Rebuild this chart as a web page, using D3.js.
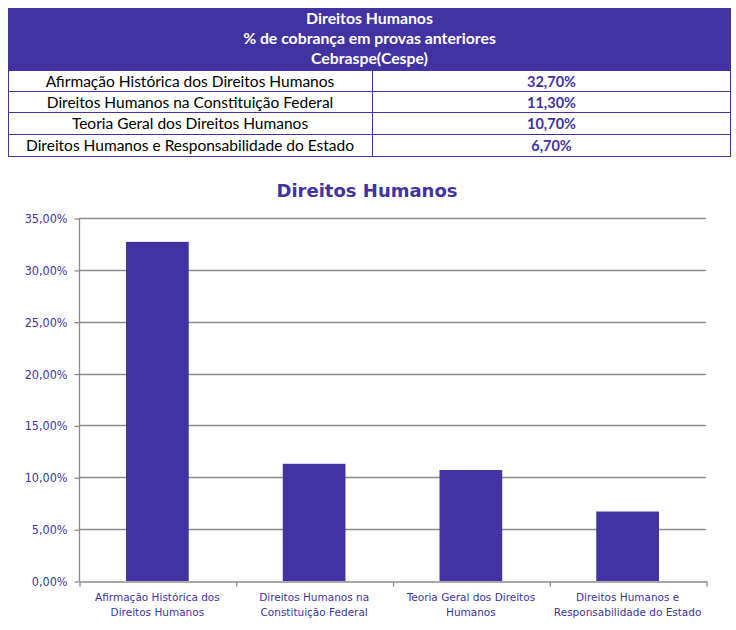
<!DOCTYPE html>
<html>
<head>
<meta charset="utf-8">
<script src="https://cdn.jsdelivr.net/npm/d3@7"></script>
<style>
  body { margin: 0; background: #fff; }
</style>
</head>
<body>
<div id="canvas"></div>
<script>
// chart values
var categories = [
  "Afirmação Histórica dos Direitos Humanos",
  "Direitos Humanos na Constituição Federal",
  "Teoria Geral dos Direitos Humanos",
  "Direitos Humanos e Responsabilidade do Estado"
];
// axis labels are wrapped on two lines like the original
var axisLabels = [
  ["Afirmação Histórica dos", "Direitos Humanos"],
  ["Direitos Humanos na", "Constituição Federal"],
  ["Teoria Geral dos Direitos", "Humanos"],
  ["Direitos Humanos e", "Responsabilidade do Estado"]
];
var values = [32.7, 11.3, 10.7, 6.7];
var headerLines = ["Direitos Humanos", "% de cobrança em provas anteriores", "Cebraspe(Cespe)"];
var chartTitle = "Direitos Humanos";
var yTicks = [0, 5, 10, 15, 20, 25, 30, 35];

var purple = "#4232a2";
var fmt = function(v){ return v.toFixed(2).replace(".", ",") + "%"; };

var svg = d3.select("#canvas").append("svg")
  .attr("width", 736).attr("height", 630);

// ---- table on top
var tbl = {left: 8, right: 731, split: 372, top: 8, headBottom: 70, rows: [70, 91, 112, 134, 156]};

svg.append("rect")
  .attr("x", tbl.left).attr("y", tbl.top)
  .attr("width", tbl.right - tbl.left).attr("height", tbl.headBottom - tbl.top)
  .attr("fill", purple);

svg.selectAll(".head").data(headerLines).enter().append("text")
  .attr("x", (tbl.left + tbl.right) / 2)
  .attr("y", function(d, i){ return 24 + i * 20; })
  .attr("text-anchor", "middle")
  .attr("fill", "#fff")
  .attr("font-family", "Lato, sans-serif")
  .attr("font-weight", "bold")
  .attr("font-size", 15.8)
  .text(function(d){ return d; });

var rowData = categories.map(function(c, i){ return {name: c, value: values[i]}; });

// row borders
svg.append("path")
  .attr("fill", "none").attr("stroke", purple).attr("stroke-width", 1)
  .attr("d", function(){
    var p = "";
    tbl.rows.forEach(function(y){ p += "M" + tbl.left + "," + (y + 0.5) + "H" + tbl.right; });
    p += "M" + (tbl.left + 0.5) + "," + tbl.rows[0] + "V" + tbl.rows[tbl.rows.length - 1];
    p += "M" + (tbl.right - 0.5) + "," + tbl.rows[0] + "V" + tbl.rows[tbl.rows.length - 1];
    p += "M" + (tbl.split + 0.5) + "," + tbl.rows[0] + "V" + tbl.rows[tbl.rows.length - 1];
    return p;
  });

var rows = svg.selectAll(".row").data(rowData).enter().append("g");
rows.append("text")
  .attr("x", (tbl.left + tbl.split) / 2)
  .attr("y", function(d, i){ return (tbl.rows[i] + tbl.rows[i + 1]) / 2 + 6; })
  .attr("text-anchor", "middle")
  .attr("fill", "#000")
  .attr("font-family", "Lato, sans-serif")
  .attr("font-size", 15.5)
  .text(function(d){ return d.name; });
rows.append("text")
  .attr("x", (tbl.split + tbl.right) / 2)
  .attr("y", function(d, i){ return (tbl.rows[i] + tbl.rows[i + 1]) / 2 + 6; })
  .attr("text-anchor", "middle")
  .attr("fill", purple)
  .attr("font-family", "Lato, sans-serif")
  .attr("font-weight", "bold")
  .attr("font-size", 14.5)
  .text(function(d){ return d.value.toFixed(2).replace(".", ",") + "%"; });

// ---- bar chart
var plot = {left: 79, right: 706, top: 218, bottom: 581};

svg.append("text")
  .attr("x", 367).attr("y", 197)
  .attr("text-anchor", "middle")
  .attr("fill", purple)
  .attr("font-family", "'DejaVu Sans', sans-serif")
  .attr("font-weight", "bold")
  .attr("font-size", 18)
  .text(chartTitle);

var x = d3.scaleBand().domain(categories).range([plot.left, plot.right]).paddingInner(0.6).paddingOuter(0.3);
var y = d3.scaleLinear().domain([0, 35]).range([plot.bottom, plot.top]);

// gridlines
svg.selectAll(".grid").data(yTicks.slice(1)).enter().append("line")
  .attr("x1", plot.left).attr("x2", plot.right)
  .attr("y1", function(d){ return Math.round(y(d)) + 0.5; })
  .attr("y2", function(d){ return Math.round(y(d)) + 0.5; })
  .attr("stroke", "#8c8c8c").attr("stroke-width", 1.3);

svg.selectAll(".bar").data(rowData).enter().append("rect")
  .attr("x", function(d){ return x(d.name); })
  .attr("width", x.bandwidth())
  .attr("y", function(d){ return y(d.value); })
  .attr("height", function(d){ return y(0) - y(d.value); })
  .attr("fill", purple);

// y axis
var yAxis = svg.append("g")
  .attr("transform", "translate(" + (plot.left + 0.5) + ",0.5)")
  .call(d3.axisLeft(y).tickValues(yTicks).tickFormat(fmt).tickSize(5).tickPadding(7));
yAxis.selectAll("path, line").attr("stroke", "#8c8c8c").attr("stroke-width", 1.3);
yAxis.select(".domain").attr("d", "M0," + Math.round(plot.top) + "V" + plot.bottom);
yAxis.selectAll("text")
  .attr("fill", purple)
  .attr("font-family", "'DejaVu Sans', sans-serif")
  .attr("font-size", 12.5)
  .style("font-stretch", "condensed");

// x axis: ticks at category boundaries
var xb = d3.scaleLinear().domain([0, categories.length]).range([plot.left, plot.right]);
var xAxis = svg.append("g")
  .attr("transform", "translate(0.5," + (plot.bottom + 0.5) + ")")
  .call(d3.axisBottom(xb).tickValues(d3.range(categories.length + 1)).tickFormat("").tickSize(5).tickSizeOuter(0));
xAxis.selectAll("path, line").attr("stroke", "#8c8c8c").attr("stroke-width", 1.3);

var labels = svg.selectAll(".xlab").data(axisLabels).enter().append("text")
  .attr("text-anchor", "middle")
  .attr("fill", purple)
  .attr("font-family", "'DejaVu Sans', sans-serif")
  .attr("font-size", 10.5)
  .attr("transform", function(d, i){ return "translate(" + (x(categories[i]) + x.bandwidth() / 2) + "," + (plot.bottom + 20) + ")"; });
labels.selectAll("tspan").data(function(d){ return d; }).enter().append("tspan")
  .attr("x", 0)
  .attr("dy", function(d, i){ return i === 0 ? 0 : 15; })
  .text(function(d){ return d; });
</script>
</body>
</html>
